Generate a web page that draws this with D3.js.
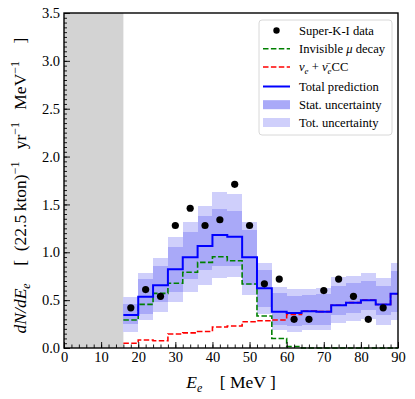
<!DOCTYPE html>
<html>
<head>
<meta charset="utf-8">
<script src="https://cdn.jsdelivr.net/npm/d3@7"></script>
<style>
  body { margin: 0; background: #fff; }
  svg { display: block; }
  text { font-family: "Liberation Serif", "DejaVu Serif", serif; fill: #000; }
</style>
</head>
<body>
<svg id="chart" width="415" height="399"></svg>
<script>
// ---- data ----
const binEdges = [16, 20, 24, 28, 32, 36, 40, 44, 48, 52, 56, 60, 64, 68, 72, 76, 80, 84, 88, 90];
const totalPred = [0.345, 0.536, 0.655, 0.822, 0.948, 1.066, 1.181, 1.163, 0.948, 0.624, 0.38, 0.365, 0.385, 0.38, 0.446, 0.474, 0.50, 0.455, 0.567];
const invisibleMu = [0.293, 0.456, 0.571, 0.676, 0.791, 0.895, 0.954, 0.912, 0.669, 0.334, 0.10, 0.015, 0, 0, 0, 0, 0, 0, 0];
const nueCC = [0.049, 0.084, 0.076, 0.146, 0.158, 0.172, 0.22, 0.23, 0.275, 0.285, 0.293, 0.35, 0.385, 0.38, 0.446, 0.474, 0.50, 0.455, 0.567];
const statUp = [0.46, 0.72, 0.857, 1.06, 1.215, 1.379, 1.452, 1.435, 1.23, 0.815, 0.57, 0.543, 0.55, 0.56, 0.648, 0.676, 0.70, 0.648, 0.80];
const statLo = [0.25, 0.36, 0.48, 0.59, 0.72, 0.82, 0.86, 0.86, 0.66, 0.43, 0.24, 0.23, 0.24, 0.24, 0.345, 0.362, 0.397, 0.345, 0.38];
const totUp = [0.536, 0.78, 0.937, 1.157, 1.32, 1.487, 1.627, 1.606, 1.32, 0.885, 0.634, 0.62, 0.613, 0.63, 0.739, 0.752, 0.787, 0.728, 0.885];
const totLo = [0.17, 0.29, 0.38, 0.48, 0.59, 0.66, 0.728, 0.74, 0.55, 0.36, 0.188, 0.17, 0.188, 0.19, 0.265, 0.285, 0.30, 0.24, 0.29];
const dataE = [18, 22, 26, 30, 34, 38, 42, 46, 50, 54, 58, 62, 66, 70, 74, 78, 82, 86];
const dataVal = [0.42, 0.61, 0.54, 1.28, 1.46, 1.28, 1.34, 1.71, 1.28, 0.67, 0.72, 0.30, 0.30, 0.60, 0.72, 0.54, 0.30, 0.42];
const thresholdE = 16;
const xTicks = [0, 10, 20, 30, 40, 50, 60, 70, 80, 90];
const yTicks = [0, 0.5, 1.0, 1.5, 2.0, 2.5, 3.0, 3.5];

// ---- layout ----
const L = 64, R = 398, T = 13, B = 348;
const svg = d3.select("#chart");
const x = d3.scaleLinear().domain([0, 90]).range([L, R]);
const y = d3.scaleLinear().domain([0, 3.5]).range([B, T]);

const colStat = "#a9a9f8", colTot = "#cfcffb";

// threshold shaded region
svg.append("rect").attr("x", x(0)).attr("y", T).attr("width", x(thresholdE) - x(0)).attr("height", B - T).attr("fill", "#d3d3d3");

const bins = d3.range(binEdges.length - 1).map(i => ({ x0: binEdges[i], x1: binEdges[i + 1], i }));

// total uncertainty bands
svg.append("g").selectAll("rect").data(bins).join("rect")
  .attr("x", d => x(d.x0)).attr("width", d => x(d.x1) - x(d.x0))
  .attr("y", d => y(totUp[d.i])).attr("height", d => y(totLo[d.i]) - y(totUp[d.i]))
  .attr("fill", colTot).attr("shape-rendering", "crispEdges");
// stat uncertainty bands
svg.append("g").selectAll("rect").data(bins).join("rect")
  .attr("x", d => x(d.x0)).attr("width", d => x(d.x1) - x(d.x0))
  .attr("y", d => y(statUp[d.i])).attr("height", d => y(statLo[d.i]) - y(statUp[d.i]))
  .attr("fill", colStat).attr("shape-rendering", "crispEdges");

function stepPts(vals) {
  const pts = binEdges.slice(0, -1).map((e, i) => [e, vals[i]]);
  pts.push([binEdges[binEdges.length - 1], vals[vals.length - 1]]);
  return pts;
}
const stepLine = d3.line().x(d => x(d[0])).y(d => y(d[1])).curve(d3.curveStepAfter);

svg.append("path").attr("d", stepLine(stepPts(invisibleMu))).attr("fill", "none")
  .attr("stroke", "#008000").attr("stroke-width", 1.6).attr("stroke-dasharray", "5.5,2.4");
svg.append("path").attr("d", stepLine(stepPts(nueCC))).attr("fill", "none")
  .attr("stroke", "#ff0000").attr("stroke-width", 1.6).attr("stroke-dasharray", "5.5,2.4");
svg.append("path").attr("d", stepLine(stepPts(totalPred))).attr("fill", "none")
  .attr("stroke", "#0000ff").attr("stroke-width", 2);

// data points
svg.append("g").selectAll("circle").data(dataE).join("circle")
  .attr("cx", d => x(d)).attr("cy", (d, i) => y(dataVal[i])).attr("r", 3.6).attr("fill", "#000");

// axes
const xMinor = d3.range(0, 91, 2);
const yMinor = d3.range(0, 3.5001, 0.05);
const gx = svg.append("g").attr("transform", `translate(0,${B})`)
  .call(d3.axisBottom(x).tickValues(xTicks).tickFormat(d3.format("d")).tickSize(-6).tickPadding(4));
gx.select(".domain").remove();
gx.selectAll("text").attr("font-size", 14.5).attr("font-family", "Liberation Serif");
const gxm = svg.append("g").attr("transform", `translate(0,${B})`)
  .call(d3.axisBottom(x).tickValues(xMinor).tickFormat("").tickSize(-3.5));
gxm.select(".domain").remove();

const gy = svg.append("g").attr("transform", `translate(${L},0)`)
  .call(d3.axisLeft(y).tickValues(yTicks).tickFormat(d3.format(".1f")).tickSize(-6).tickPadding(4));
gy.select(".domain").remove();
gy.selectAll("text").attr("font-size", 14.5).attr("font-family", "Liberation Serif");
const gym = svg.append("g").attr("transform", `translate(${L},0)`)
  .call(d3.axisLeft(y).tickValues(yMinor).tickFormat("").tickSize(-3));
gym.select(".domain").remove();
svg.selectAll(".tick line").attr("stroke", "#000").attr("stroke-width", 0.9);

// frame
svg.append("rect").attr("x", L).attr("y", T).attr("width", R - L).attr("height", B - T)
  .attr("fill", "none").attr("stroke", "#000").attr("stroke-width", 1.4);

// x label
const xl = svg.append("text").attr("x", (L + R) / 2).attr("y", 388).attr("text-anchor", "middle")
  .attr("font-size", 17.5).attr("xml:space", "preserve");
xl.append("tspan").attr("font-style", "italic").text("E");
xl.append("tspan").attr("font-style", "italic").attr("font-size", 12).attr("dy", 3.5).text("e");
xl.append("tspan").attr("dy", -3.5).text("\u2003[ MeV ]");

// y label
const yl = svg.append("text").attr("transform", `translate(26,185.5) rotate(-90)`)
  .attr("text-anchor", "middle").attr("font-size", 17.5).attr("xml:space", "preserve");
yl.append("tspan").attr("font-style", "italic").text("dN/dE");
yl.append("tspan").attr("font-style", "italic").attr("font-size", 12).attr("dy", 3.5).text("e");
yl.append("tspan").attr("dy", -3.5).text("\u2003[\u2002(22.5\u2009kton)");
yl.append("tspan").attr("font-size", 12).attr("dy", -7).text("\u22121");
yl.append("tspan").attr("dy", 7).text("\u2002\u2009yr");
yl.append("tspan").attr("font-size", 12).attr("dy", -7).text("\u22121");
yl.append("tspan").attr("dy", 7).text("\u2002\u2009MeV");
yl.append("tspan").attr("font-size", 12).attr("dy", -7).text("\u22121");
yl.append("tspan").attr("dy", 7).text("\u2003]");

// legend
const lg = svg.append("g");
lg.append("rect").attr("x", 259).attr("y", 20).attr("width", 133).attr("height", 115).attr("rx", 3)
  .attr("fill", "#fff").attr("fill-opacity", 0.85).attr("stroke", "#d4d4d4").attr("stroke-width", 0.9);
const rows = [30.5, 48.7, 67, 86.5, 104.7, 122.5];
const hx0 = 263, hx1 = 290, tx = 299, fs = 12.6;
lg.append("circle").attr("cx", (hx0 + hx1) / 2).attr("cy", rows[0]).attr("r", 3.2).attr("fill", "#000");
lg.append("line").attr("x1", hx0).attr("x2", hx1).attr("y1", rows[1]).attr("y2", rows[1])
  .attr("stroke", "#008000").attr("stroke-width", 1.6).attr("stroke-dasharray", "5.5,2.4");
lg.append("line").attr("x1", hx0).attr("x2", hx1).attr("y1", rows[2]).attr("y2", rows[2])
  .attr("stroke", "#ff0000").attr("stroke-width", 1.6).attr("stroke-dasharray", "5.5,2.4");
lg.append("line").attr("x1", hx0).attr("x2", hx1).attr("y1", rows[3]).attr("y2", rows[3])
  .attr("stroke", "#0000ff").attr("stroke-width", 2);
lg.append("rect").attr("x", hx0).attr("y", rows[4] - 4.5).attr("width", hx1 - hx0).attr("height", 9).attr("fill", colStat);
lg.append("rect").attr("x", hx0).attr("y", rows[5] - 4.5).attr("width", hx1 - hx0).attr("height", 9).attr("fill", colTot);

function ltext(i) { return lg.append("text").attr("x", tx).attr("y", rows[i] + 4.3).attr("font-size", fs); }
ltext(0).text("Super-K-I data");
const t1 = ltext(1); t1.append("tspan").text("Invisible "); t1.append("tspan").attr("font-style", "italic").text("\u03bc"); t1.append("tspan").text(" decay");
const t2 = ltext(2);
t2.append("tspan").attr("font-style", "italic").text("\u03bd");
t2.append("tspan").attr("font-style", "italic").attr("font-size", 9).attr("dy", 2.5).text("e");
t2.append("tspan").attr("dy", -2.5).text(" + ");
t2.append("tspan").attr("font-style", "italic").text("\u03bd\u0304");
t2.append("tspan").attr("font-style", "italic").attr("font-size", 9).attr("dy", 2.5).text("e");
t2.append("tspan").attr("dy", -2.5).text("CC");
ltext(3).text("Total prediction");
ltext(4).text("Stat. uncertainty");
ltext(5).text("Tot. uncertainty");
</script>
</body>
</html>
